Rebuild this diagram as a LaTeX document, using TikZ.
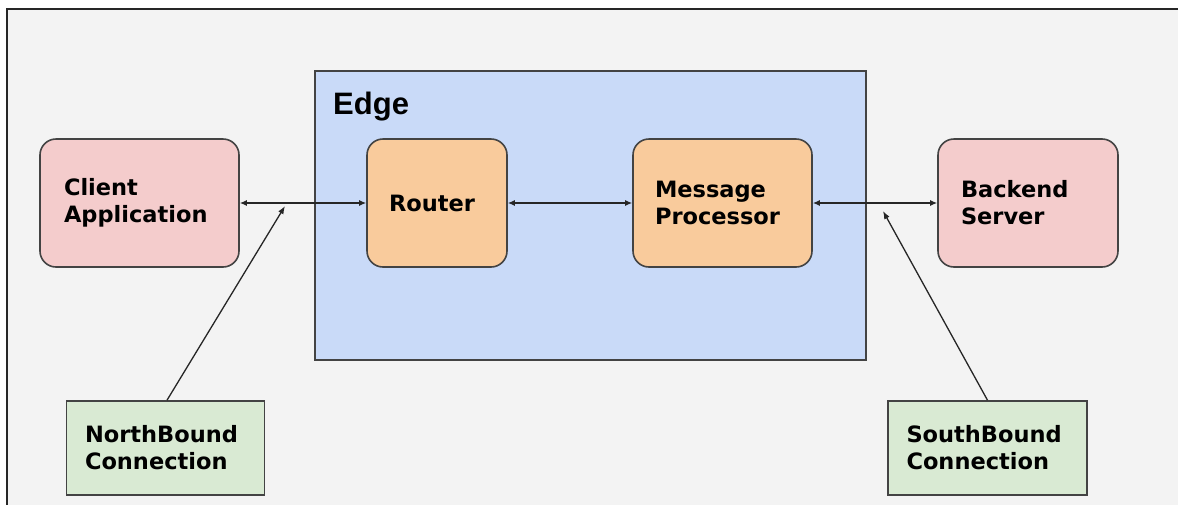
\documentclass[tikz,border=0pt]{standalone}
\usepackage{fontspec}
\setmainfont{DejaVu Sans}
\newfontfamily\edgefont{Liberation Sans}
\usetikzlibrary{arrows.meta}
\definecolor{bgc}{HTML}{F3F3F3}
\definecolor{pinkc}{HTML}{F4CCCC}
\definecolor{orangec}{HTML}{F9CB9C}
\definecolor{bluec}{HTML}{C9DAF8}
\definecolor{greenc}{HTML}{D9EAD3}
\definecolor{linec}{HTML}{434343}
\tikzset{
  box/.style={draw=linec, line width=1.6pt, rounded corners=16pt, minimum height=128pt,
    inner xsep=23pt, align=left, font=\fontsize{22.5}{27}\selectfont\bfseries},
  gbox/.style={draw=linec, line width=1.6pt, fill=greenc, minimum height=94pt,
    inner xsep=18.5pt, align=left, font=\fontsize{22.5}{27}\selectfont\bfseries},
  conn/.style={draw=black!85, line width=1.3pt, {Latex[length=7pt,width=6pt]}-{Latex[length=7pt,width=6pt]}},
  conn1/.style={draw=black!85, line width=1.3pt, -{Latex[length=8pt,width=6pt]}}
}
\begin{document}
\begin{tikzpicture}[x=1pt,y=-1pt]
\useasboundingbox (0,0) rectangle (1178,504);
\fill[white] (0,0) rectangle (1178,504);
\draw[draw=black!85, line width=1.8pt, fill=bgc] (7,9) rectangle (1200,530);
\node[draw=linec, line width=1.6pt, fill=bluec, minimum width=551pt, minimum height=289pt, inner sep=0pt] (edge) at (590.5,215.5) {};
\node[anchor=base west, font=\edgefont\fontsize{31}{36}\selectfont\bfseries, inner sep=0pt] (edgelbl) at (333,114) {Edge};
\node[box, fill=pinkc, text width=151pt, inner xsep=24pt] (client) at (139.5,203) {Client\\Application};
\node[box, fill=orangec, text width=96pt, inner xsep=22pt] (router) at (437,203) {Router};
\node[box, fill=orangec, text width=135pt, inner xsep=22pt] (mp) at (722.5,203) {Message\\Processor};
\node[box, fill=pinkc, text width=134pt] (backend) at (1028,203) {Backend\\Server};
\node[gbox, text width=161pt] (nb) at (165.5,448) {NorthBound\\Connection};
\node[gbox, text width=162pt] (sb) at (987.5,448) {SouthBound\\Connection};
\coordinate (nbtip) at (285,206);
\coordinate (sbtip) at (883,211);
\draw[conn] (client.east) -- (router.west);
\draw[conn] (router.east) -- (mp.west);
\draw[conn] (mp.east) -- (backend.west);
\draw[conn1] ([xshift=1.5pt]nb.north) -- (nbtip);
\draw[conn1] (sb.north) -- (sbtip);
\end{tikzpicture}
\end{document}
